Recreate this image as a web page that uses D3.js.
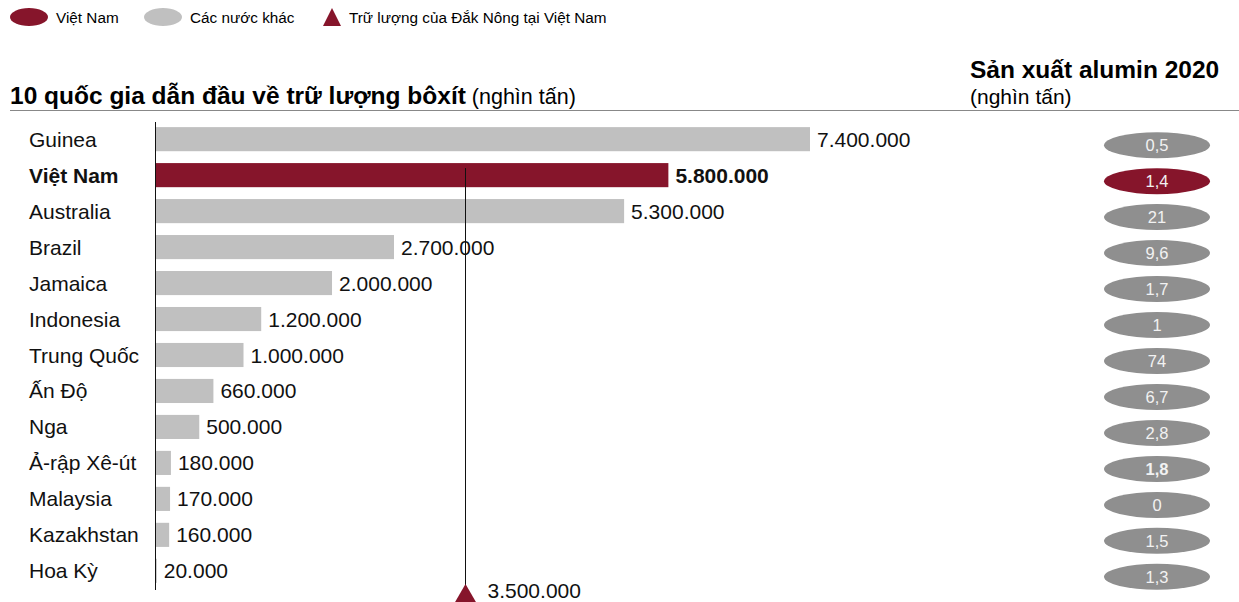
<!DOCTYPE html>
<html>
<head>
<meta charset="utf-8">
<script src="https://cdn.jsdelivr.net/npm/d3@7"></script>
<style>
  body { margin: 0; background: #fff; }
  svg { font-family: "Liberation Sans", Arial, sans-serif; }
</style>
</head>
<body>
<svg id="chart" width="1239" height="602"></svg>
<script>
// data
const countries = ['Guinea', 'Việt Nam', 'Australia', 'Brazil', 'Jamaica', 'Indonesia', 'Trung Quốc',
                   'Ấn Độ', 'Nga', 'Ả-rập Xê-út', 'Malaysia', 'Kazakhstan', 'Hoa Kỳ'];
const reserves = [7400000, 5800000, 5300000, 2700000, 2000000, 1200000, 1000000,
                  660000, 500000, 180000, 170000, 160000, 20000];
const alumina = ['0,5', '1,4', '21', '9,6', '1,7', '1', '74', '6,7', '2,8', '1,8', '0', '1,5', '1,3'];
const daknong = 3500000;
const highlight = 'Việt Nam';

const maroon = '#86152b';
const grey = '#c0c0c0';
const darkGrey = '#8f8f8f';

const svg = d3.select('#chart');
const fmt = v => d3.format(',')(v).replace(/,/g, '.');

// legend
const legend = svg.append('g').attr('transform', 'translate(0,17)');
legend.append('ellipse').attr('cx', 29).attr('cy', 0).attr('rx', 19).attr('ry', 9).attr('fill', maroon);
legend.append('text').attr('x', 56).attr('y', 5.5).attr('font-size', 15.3).text('Việt Nam');
legend.append('ellipse').attr('cx', 163).attr('cy', 0).attr('rx', 19).attr('ry', 9).attr('fill', grey);
legend.append('text').attr('x', 190).attr('y', 5.5).attr('font-size', 15.3).text('Các nước khác');
legend.append('path').attr('d', 'M323,9 L332,-9 L341,9 Z').attr('fill', maroon);
legend.append('text').attr('x', 349).attr('y', 5.5).attr('font-size', 15.3).text('Trữ lượng của Đắk Nông tại Việt Nam');

// titles
const t1 = svg.append('text').attr('x', 10).attr('y', 104).attr('font-size', 24.5);
t1.append('tspan').attr('font-weight', 'bold').text('10 quốc gia dẫn đầu về trữ lượng bôxít');
t1.append('tspan').attr('font-size', 21.5).text(' (nghìn tấn)');
svg.append('text').attr('x', 970).attr('y', 78).attr('font-size', 24.5).attr('font-weight', 'bold')
    .text('Sản xuất alumin 2020');
svg.append('text').attr('x', 970).attr('y', 104).attr('font-size', 21).text('(nghìn tấn)');
svg.append('line').attr('x1', 10).attr('x2', 1239).attr('y1', 110.5).attr('y2', 110.5)
    .attr('stroke', '#888').attr('stroke-width', 1);

// scales
const x = d3.scaleLinear().domain([0, 7400000]).range([155, 810]);
const y = d3.scaleBand().domain(countries).range([121, 589]).paddingInner(0.33).paddingOuter(0.17);

// bars
svg.append('g').selectAll('rect')
    .data(countries)
    .join('rect')
    .attr('x', x(0))
    .attr('y', d => y(d))
    .attr('width', (d, i) => x(reserves[i]) - x(0))
    .attr('height', y.bandwidth())
    .attr('fill', d => d === highlight ? maroon : grey);

// value labels
svg.append('g').selectAll('text')
    .data(countries)
    .join('text')
    .attr('x', (d, i) => x(reserves[i]) + 7)
    .attr('y', d => y(d) + y.bandwidth() / 2 + 7.5)
    .attr('font-size', 21)
    .attr('font-weight', d => d === highlight ? 'bold' : 'normal')
    .attr('fill', '#111')
    .text((d, i) => fmt(reserves[i]));

// country labels
svg.append('g').selectAll('text')
    .data(countries)
    .join('text')
    .attr('x', 29)
    .attr('y', d => y(d) + y.bandwidth() / 2 + 7.5)
    .attr('font-size', 21)
    .attr('font-weight', d => d === highlight ? 'bold' : 'normal')
    .attr('fill', '#111')
    .text(d => d);

// axis line
svg.append('line').attr('x1', x(0) + 0.5).attr('x2', x(0) + 0.5).attr('y1', 122).attr('y2', 590)
    .attr('stroke', '#111').attr('stroke-width', 1);

// Dak Nong marker
const dx = Math.round(x(daknong)) + 0.5;
svg.append('line').attr('x1', dx).attr('x2', dx).attr('y1', y(highlight) + 5).attr('y2', 590)
    .attr('stroke', '#111').attr('stroke-width', 1);
svg.append('path').attr('d', `M${dx - 11},603 L${dx},584 L${dx + 11},603 Z`).attr('fill', maroon);
svg.append('text').attr('x', dx + 22).attr('y', 598).attr('font-size', 21).attr('fill', '#111')
    .text(fmt(daknong));

// alumina ellipses
const ell = svg.append('g').selectAll('g')
    .data(countries)
    .join('g')
    .attr('transform', d => `translate(1157, ${y(d) + y.bandwidth() / 2 + 6})`);
ell.append('ellipse').attr('rx', 53).attr('ry', 13)
    .attr('fill', d => d === highlight ? maroon : darkGrey);
ell.append('text')
    .attr('text-anchor', 'middle')
    .attr('y', 6)
    .attr('font-size', 16.5)
    .attr('fill', '#f2f2f2')
    .attr('font-weight', (d, i) => alumina[i] === '1,8' ? 'bold' : 'normal')
    .text((d, i) => alumina[i]);
</script>
</body>
</html>
